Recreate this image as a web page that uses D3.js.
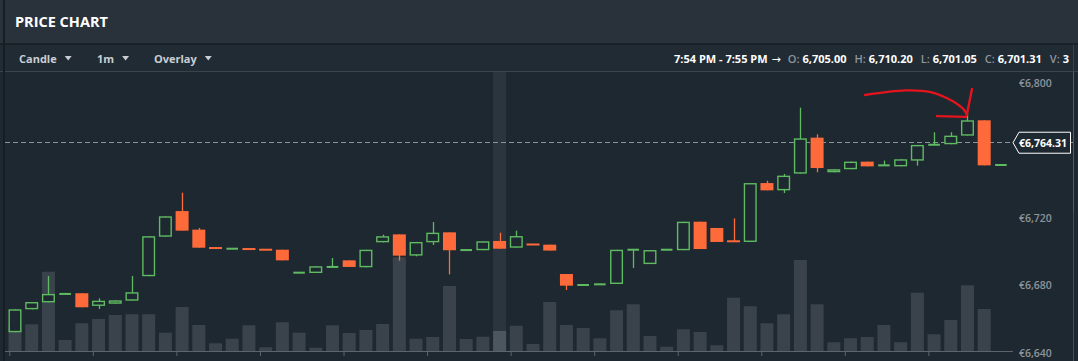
<!DOCTYPE html>
<html>
<head>
<meta charset="utf-8">
<script src="https://cdn.jsdelivr.net/npm/d3@7"></script>
<style>
  body { margin: 0; background: #1e2830; overflow: hidden; }
  svg { display: block; font-family: "Open Sans", "Noto Sans", sans-serif; }
</style>
</head>
<body>
<div id="chart"></div>
<script>
// candles, one per minute
const opens  = [6652.3, 6665.9, 6670.0, 6675.0, 6675.4, 6667.9, 6669.2, 6671.0, 6685.5, 6708.9,
                6724.1, 6713.1, 6702.3, 6701.7, 6701.7, 6701.3, 6701.2, 6687.5, 6687.4, 6690.9,
                6694.9, 6690.8, 6705.6, 6710.3, 6697.7, 6705.6, 6711.5, 6700.9, 6700.9, 6706.4,
                6702.4, 6704.4, 6704.2, 6686.8, 6680.2, 6680.6, 6680.9, 6701.1, 6692.7, 6701.1,
                6700.9, 6717.8, 6714.1, 6706.3, 6705.8, 6740.7, 6736.4, 6746.3, 6767.6, 6747.1,
                6748.9, 6753.4, 6751.1, 6750.6, 6754.0, 6763.3, 6763.7, 6768.8, 6777.9, 6751.3];
const highs  = [6665.9, 6670.2, 6685.6, 6675.0, 6675.4, 6672.4, 6671.2, 6685.6, 6709.2, 6721.0,
                6735.0, 6714.1, 6702.3, 6701.9, 6701.7, 6701.3, 6701.2, 6687.7, 6691.4, 6696.3,
                6694.9, 6701.2, 6710.1, 6710.3, 6705.8, 6717.6, 6711.5, 6701.1, 6706.2, 6711.3,
                6712.5, 6704.4, 6704.2, 6686.8, 6680.4, 6680.8, 6701.2, 6701.3, 6701.0, 6701.3,
                6717.8, 6717.8, 6714.1, 6719.8, 6740.7, 6742.1, 6746.1, 6785.4, 6769.6, 6748.9,
                6753.4, 6753.4, 6754.0, 6754.8, 6763.3, 6770.8, 6770.8, 6782.2, 6777.9, 6751.5];
const lows   = [6652.3, 6665.9, 6670.0, 6675.0, 6667.1, 6666.1, 6669.2, 6671.0, 6685.5, 6708.9,
                6712.5, 6702.4, 6702.1, 6701.7, 6701.5, 6701.1, 6694.9, 6687.5, 6687.4, 6690.9,
                6691.0, 6690.8, 6705.6, 6694.7, 6697.3, 6704.0, 6686.6, 6700.9, 6700.9, 6701.8,
                6702.4, 6704.2, 6700.7, 6677.3, 6680.2, 6680.6, 6680.9, 6690.4, 6692.7, 6701.1,
                6700.9, 6701.6, 6705.8, 6706.1, 6705.8, 6736.4, 6734.8, 6746.3, 6747.1, 6747.1,
                6748.9, 6750.6, 6751.1, 6750.6, 6751.0, 6763.3, 6763.7, 6768.8, 6751.2, 6751.3];
const closes = [6665.9, 6670.2, 6675.0, 6675.0, 6667.1, 6671.0, 6671.2, 6676.0, 6709.2, 6721.0,
                6712.5, 6702.4, 6702.1, 6701.9, 6701.5, 6701.1, 6694.9, 6687.7, 6691.4, 6691.1,
                6691.0, 6701.2, 6709.2, 6697.7, 6705.8, 6711.3, 6700.9, 6701.1, 6706.2, 6701.8,
                6709.3, 6704.2, 6700.7, 6679.9, 6680.4, 6680.8, 6701.2, 6701.3, 6701.0, 6701.3,
                6717.8, 6701.6, 6705.8, 6706.1, 6740.7, 6736.4, 6745.1, 6767.2, 6749.6, 6748.9,
                6753.4, 6750.6, 6751.3, 6754.8, 6763.3, 6763.5, 6768.8, 6777.9, 6751.2, 6751.5];
const volumes = [25, 26.7, 79.3, 11, 27.7, 32, 36, 36.7, 36.7, 18.3,
                 44, 26, 7.7, 12.3, 25.7, 3.7, 28.7, 18.3, 3.3, 25.7,
                 18, 21, 27, 93.7, 12.3, 14, 65, 12, 14.3, 20,
                 25.3, 7, 49, 26, 23, 12.7, 40.7, 46.7, 15, 4.3,
                 21.7, 19, 5.7, 53.3, 44.7, 27.7, 36.7, 91, 46.7, 8.7,
                 12.7, 14, 26, 8.7, 58.3, 16.7, 31, 65.7, 42, 0];

const priceTicks = [6640, 6680, 6720, 6760, 6800];
const currentPrice = 6764.31;
const hoverIndex = 29;

const toolbarItems = ["Candle", "1m", "Overlay"];
const infoRange = "7:54 PM - 7:55 PM";
const infoLabels = ["O:", "H:", "L:", "C:", "V:"];
const infoValues = ["6,705.00", "6,710.20", "6,701.05", "6,701.31", "3"];

// hand drawn note, in (candle index, price)
const noteCurve = [[50.87, 6792.9], [53.3, 6795.6], [54.8, 6794.6], [56.1, 6789.3], [56.8, 6784.0], [56.97, 6781.0]];
const noteStroke = [[57.27, 6796.5], [56.97, 6781.6]];
const noteDash = [[55.18, 6780.4], [56.91, 6779.9]];

//variables
const width = 1078, height = 361;
const up = "#5fba62", down = "#ff6a3b", bg = "#1e2830";
const candleW = 13;

const svg = d3.select("#chart").append("svg")
  .attr("width", width)
  .attr("height", height);

//panels
svg.append("rect").attr("width", width).attr("height", 43).attr("fill", "#29323b");
svg.append("rect").attr("y", 43).attr("width", width).attr("height", 2).attr("fill", "#1a2128");
svg.append("rect").attr("y", 45).attr("width", width).attr("height", 26).attr("fill", "#212b34");
svg.append("rect").attr("y", 71).attr("width", width).attr("height", 1).attr("fill", "#3a444d");
svg.append("rect").attr("y", 72).attr("width", width).attr("height", height - 72).attr("fill", bg);
svg.append("rect").attr("x", 3).attr("width", 2).attr("height", height).attr("fill", "#161d23");
svg.append("rect").attr("x", 1073).attr("y", 45).attr("width", 1).attr("height", 27).attr("fill", "#3a444d");
svg.append("rect").attr("x", 1073).attr("y", 72).attr("width", 1).attr("height", 140).attr("fill", "#3d6a45");
svg.append("rect").attr("x", 1073).attr("y", 212).attr("width", 1).attr("height", height - 212).attr("fill", "#6e3f35");

svg.append("text")
  .attr("x", 15).attr("y", 27)
  .attr("fill", "#ffffff")
  .attr("font-size", 14.5)
  .attr("font-weight", 700)
  .text("PRICE CHART");

//toolbar
const toolX = [19, 97, 154];
toolbarItems.forEach(function(t, i) {
  const g = svg.append("g").attr("transform", `translate(${toolX[i]}, 63)`);
  const txt = g.append("text")
    .attr("fill", "#c9ced3")
    .attr("font-size", 11)
    .attr("font-weight", 700)
    .text(t);
  const w = txt.node().getComputedTextLength();
  g.append("path")
    .attr("d", `M${w + 8},-7 h7 l-3.5,4.5 z`)
    .attr("fill", "#c9ced3");
});

const info = svg.append("text")
  .attr("x", 1069).attr("y", 63)
  .attr("text-anchor", "end")
  .attr("font-size", 11)
  .attr("font-weight", 700)
  .attr("fill", "#ffffff");
info.append("tspan").text(infoRange);
info.append("tspan").attr("dx", 4).attr("font-family", "DejaVu Sans").attr("font-weight", 400).text("\u2192");
infoLabels.forEach(function(l, i) {
  info.append("tspan").attr("dx", i === 0 ? 7 : 8).attr("fill", "#8e959c").attr("font-weight", 600).text(l);
  info.append("tspan").attr("dx", 3).text(infoValues[i]);
});

//scales
const x = d3.scaleLinear().domain([0, opens.length - 1]).range([15, 1000.9]);
const y = d3.scaleLinear().domain([6640, 6800]).range([353, 83]);
const yVol = d3.scaleLinear().domain([0, 100]).range([351, 251]);

const candles = opens.map(function(o, i) {
  return {i: i, o: o, h: highs[i], l: lows[i], c: closes[i], v: volumes[i]};
});

//hover column
svg.append("rect")
  .attr("x", x(hoverIndex) - candleW / 2)
  .attr("y", 72)
  .attr("width", candleW)
  .attr("height", 351 - 72)
  .attr("fill", "#2b353e");

//volume
svg.append("g").selectAll("rect")
  .data(candles)
  .join("rect")
  .attr("x", d => x(d.i) - candleW / 2)
  .attr("y", d => yVol(d.v))
  .attr("width", candleW)
  .attr("height", d => 351 - yVol(d.v))
  .attr("fill", d => d.i === hoverIndex ? "#4c565e" : "#3a434b");

//x axis
const xTicks = d3.range(0, opens.length, 5).map(i => i - 0.34);
const xAxis = svg.append("g").attr("transform", "translate(0, 351)")
  .call(d3.axisBottom(x).tickValues(xTicks).tickSize(5).tickFormat(""));
xAxis.select(".domain").remove();
xAxis.selectAll("line").attr("stroke", "#5c656d");
svg.append("line")
  .attr("x1", 5).attr("x2", 1013)
  .attr("y1", 351.5).attr("y2", 351.5)
  .attr("stroke", "#5c656d");

//current price line
svg.append("line")
  .attr("x1", 5).attr("x2", 1073)
  .attr("y1", Math.round(y(currentPrice)) - 0.5).attr("y2", Math.round(y(currentPrice)) - 0.5)
  .attr("stroke", "#8b9299")
  .attr("stroke-dasharray", "5,3");

//candles
const cg = svg.append("g").selectAll("g")
  .data(candles)
  .join("g");

cg.append("line")
  .attr("x1", d => Math.round(x(d.i)) + 0.5)
  .attr("x2", d => Math.round(x(d.i)) + 0.5)
  .attr("y1", d => y(d.h))
  .attr("y2", d => y(d.l))
  .attr("stroke", d => d.c >= d.o ? up : down)
  .attr("stroke-width", 1.3);

cg.append("rect")
  .attr("x", d => x(d.i) - candleW / 2 + (d.c >= d.o ? 0.7 : 0))
  .attr("y", function(d) {
    const top = y(Math.max(d.o, d.c)), bot = y(Math.min(d.o, d.c));
    if (bot - top < 2) return (top + bot) / 2 - 1;
    return d.c >= d.o ? top + 0.7 : top;
  })
  .attr("width", d => d.c >= d.o ? candleW - 1.4 : candleW)
  .attr("height", function(d) {
    const h = y(Math.min(d.o, d.c)) - y(Math.max(d.o, d.c));
    if (h < 2) return 2;
    return d.c >= d.o ? h - 1.4 : h;
  })
  .attr("fill", function(d) {
    const h = y(Math.min(d.o, d.c)) - y(Math.max(d.o, d.c));
    if (d.c < d.o || h < 2) return d.c >= d.o ? up : down;
    return bg;
  })
  .attr("stroke", function(d) {
    const h = y(Math.min(d.o, d.c)) - y(Math.max(d.o, d.c));
    return (d.c >= d.o && h >= 2) ? up : "none";
  })
  .attr("stroke-width", 1.4);

//y axis, the label under the price tag is left out
const py = y(currentPrice);
svg.append("g").selectAll("text")
  .data(priceTicks.filter(d => Math.abs(y(d) - py) > 14))
  .join("text")
  .attr("x", 1019)
  .attr("y", d => y(d))
  .attr("dy", "0.35em")
  .attr("fill", "#8d949b")
  .attr("font-size", 10.5)
  .attr("font-weight", 600)
  .text(d => "\u20ac" + d3.format(",")(d));

//current price tag
svg.append("path")
  .attr("d", `M1013,${py - 0.5} L1019,${py - 11} H1070.5 V${py + 10} H1019 Z`)
  .attr("fill", bg)
  .attr("stroke", "#ffffff")
  .attr("stroke-width", 1);
svg.append("text")
  .attr("x", 1043).attr("y", py)
  .attr("dy", "0.35em")
  .attr("text-anchor", "middle")
  .attr("fill", "#ffffff")
  .attr("font-size", 10.5)
  .attr("font-weight", 700)
  .text("\u20ac" + d3.format(",.2f")(currentPrice));

//note
const noteLine = d3.line().x(d => x(d[0])).y(d => y(d[1]));
const note = svg.append("g")
  .attr("fill", "none")
  .attr("stroke", "#e3141c")
  .attr("stroke-width", 2.4)
  .attr("stroke-linecap", "round");
note.append("path").attr("d", noteLine.curve(d3.curveCatmullRom)(noteCurve));
note.append("path").attr("d", d3.line().x(d => x(d[0])).y(d => y(d[1]))(noteStroke));
note.append("path").attr("d", d3.line().x(d => x(d[0])).y(d => y(d[1]))(noteDash));
</script>
</body>
</html>
